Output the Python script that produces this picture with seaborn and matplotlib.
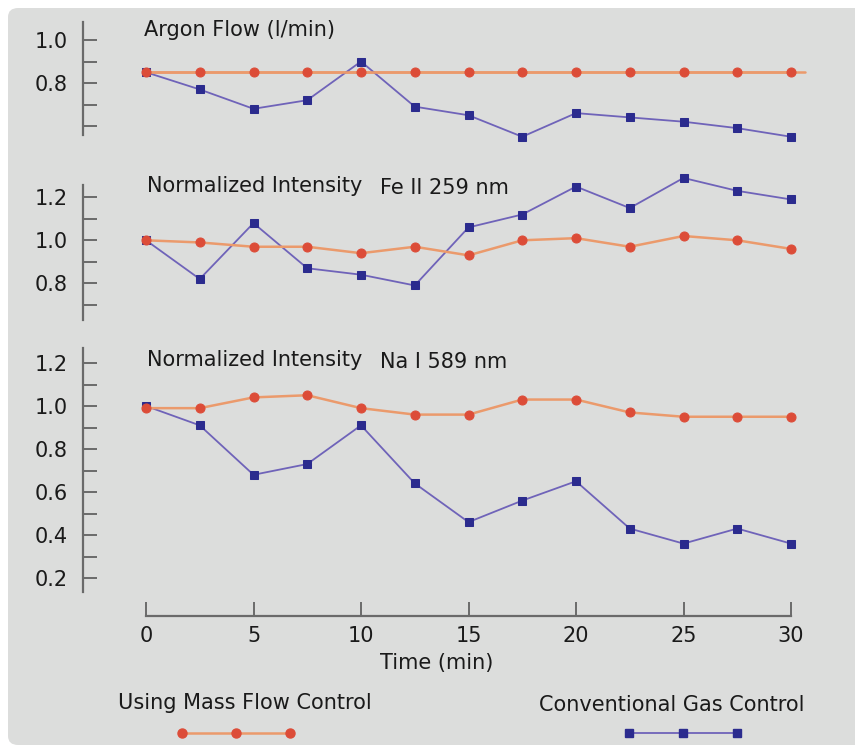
import numpy as np
import pandas as pd
import seaborn as sns
import matplotlib.pyplot as plt
from matplotlib.patches import FancyBboxPatch
from matplotlib.lines import Line2D

sns.set_theme(style='white')
plt.rcParams['font.family'] = ['DejaVu Sans']

# data
time_min = [0, 2.5, 5, 7.5, 10, 12.5, 15, 17.5, 20, 22.5, 25, 27.5, 30]

argon_mfc = [0.85, 0.85, 0.85, 0.85, 0.85, 0.85, 0.85, 0.85, 0.85, 0.85, 0.85, 0.85, 0.85]
argon_conv = [0.85, 0.77, 0.68, 0.72, 0.90, 0.69, 0.65, 0.55, 0.66, 0.64, 0.62, 0.59, 0.55]

fe_mfc = [1.00, 0.99, 0.97, 0.97, 0.94, 0.97, 0.93, 1.00, 1.01, 0.97, 1.02, 1.00, 0.96]
fe_conv = [1.00, 0.82, 1.08, 0.87, 0.84, 0.79, 1.06, 1.12, 1.25, 1.15, 1.29, 1.23, 1.19]

na_mfc = [0.99, 0.99, 1.04, 1.05, 0.99, 0.96, 0.96, 1.03, 1.03, 0.97, 0.95, 0.95, 0.95]
na_conv = [1.00, 0.91, 0.68, 0.73, 0.91, 0.64, 0.46, 0.56, 0.65, 0.43, 0.36, 0.43, 0.36]

x_ticks = [0, 5, 10, 15, 20, 25, 30]
mfc_label = 'Using Mass Flow Control'
conv_label = 'Conventional Gas Control'

# colours
bg = '#dcdddc'
orange_line = '#eb9a6c'
orange_mark = '#dc4c38'
blue_line = '#6f63b9'
blue_mark = '#2b2b8e'
axis_col = '#6a6a6a'
text_col = '#1a1a1a'

W, H = 855, 753
fig = plt.figure(figsize=(W / 100, H / 100), dpi=100)
fig.patch.set_facecolor('white')

# rounded grey panel behind everything
fig.patches.append(FancyBboxPatch((8 / W, 8 / H), (W + 20) / W, (H - 16) / H,
                                  boxstyle='round,pad=0,rounding_size=0.012',
                                  transform=fig.transFigure, facecolor=bg,
                                  edgecolor='none', zorder=-10))

# layout in pixels: x=0 at 146px, x=30 at 791px; 215 px per y-unit
X0, PX_PER_MIN = 146, 21.5
PX_PER_UNIT = 215
AX_LEFT, AX_RIGHT = 83, 812


def make_axes(top, bottom, ref_px):
    ax = fig.add_axes([AX_LEFT / W, 1 - bottom / H, (AX_RIGHT - AX_LEFT) / W, (bottom - top) / H])
    ax.set_facecolor('none')
    ax.set_xlim((AX_LEFT - X0) / PX_PER_MIN, (AX_RIGHT - X0) / PX_PER_MIN)
    ax.set_ylim(1.0 - (bottom - ref_px) / PX_PER_UNIT, 1.0 + (ref_px - top) / PX_PER_UNIT)
    for s in ['top', 'right', 'bottom']:
        ax.spines[s].set_visible(False)
    ax.spines['left'].set_color(axis_col)
    ax.spines['left'].set_linewidth(1.6)
    ax.tick_params(axis='y', direction='in', length=10, width=1.4, color=axis_col,
                   pad=11, labelsize=15, labelcolor=text_col, left=True)
    ax.set_xticks([])
    return ax


def draw(ax, y_mfc, y_conv):
    df = pd.DataFrame({'time': time_min, 'mfc': y_mfc, 'conv': y_conv})
    sns.lineplot(data=df, x='time', y='conv', ax=ax, color=blue_line, lw=1.3,
                 marker='s', markersize=6, markerfacecolor=blue_mark,
                 markeredgecolor=blue_mark, clip_on=False, zorder=3)
    sns.lineplot(data=df, x='time', y='mfc', ax=ax, color=orange_line, lw=1.8,
                 marker='o', markersize=6.5, markerfacecolor=orange_mark,
                 markeredgecolor=orange_mark, clip_on=False, zorder=4)
    ax.set_xlabel('')
    ax.set_ylabel('')


def y_ticks(ax, lo, hi, labelled):
    ticks = np.round(np.arange(lo, hi + 0.001, 0.1), 1)
    ax.set_yticks(ticks)
    ax.set_yticklabels([f'{t:.1f}' if t in labelled else '' for t in ticks])


# panel 1: argon flow
ax1 = make_axes(12, 145, 40)
draw(ax1, argon_mfc, argon_conv)
y_ticks(ax1, 0.6, 1.0, [0.8, 1.0])
ax1.spines['left'].set_bounds(0.558, 1.084)
# the constant argon line runs on a little past the last point
ax1.axhline(argon_mfc[-1], xmin=(X0 - AX_LEFT) / (AX_RIGHT - AX_LEFT),
            xmax=(805 - AX_LEFT) / (AX_RIGHT - AX_LEFT), color=orange_line, lw=1.8, zorder=2)

# panel 2: Fe II
ax2 = make_axes(165, 325, 240.3)
draw(ax2, fe_mfc, fe_conv)
y_ticks(ax2, 0.7, 1.2, [0.8, 1.0, 1.2])
ax2.spines['left'].set_bounds(0.629, 1.257)

# panel 3: Na I, carries the time axis
ax3 = make_axes(340, 616, 406)
draw(ax3, na_mfc, na_conv)
y_ticks(ax3, 0.2, 1.2, [0.2, 0.4, 0.6, 0.8, 1.0, 1.2])
ax3.spines['left'].set_bounds(0.135, 1.27)
ax3.spines['bottom'].set_visible(True)
ax3.spines['bottom'].set_color(axis_col)
ax3.spines['bottom'].set_linewidth(1.6)
ax3.spines['bottom'].set_bounds(0, 30)
ax3.set_xticks(x_ticks)
ax3.set_xticklabels([str(t) for t in x_ticks])
ax3.tick_params(axis='x', direction='in', length=10, width=1.4, color=axis_col,
                pad=7, labelsize=15, labelcolor=text_col, bottom=True)

# panel titles
title_kw = dict(fontsize=15, color=text_col, va='center', ha='left')
fig.text(144 / W, 1 - 30 / H, 'Argon Flow (l/min)', **title_kw)
fig.text(147 / W, 1 - 186 / H, 'Normalized Intensity', **title_kw)
fig.text(380 / W, 1 - 188 / H, 'Fe II 259 nm', **title_kw)
fig.text(147 / W, 1 - 360 / H, 'Normalized Intensity', **title_kw)
fig.text(380 / W, 1 - 362 / H, 'Na I 589 nm', **title_kw)

fig.text(437 / W, 1 - 663 / H, 'Time (min)', fontsize=15, color=text_col, ha='center', va='center')

# legend: label above a three-marker key
fig.text(245 / W, 1 - 703 / H, mfc_label, fontsize=15, color=text_col, ha='center', va='center')
fig.text(672 / W, 1 - 705 / H, conv_label, fontsize=15, color=text_col, ha='center', va='center')
fig.lines.append(Line2D([182 / W, 236 / W, 290 / W], [1 - 733 / H] * 3, transform=fig.transFigure,
                        color=orange_line, lw=1.8, marker='o', markersize=6.5,
                        markerfacecolor=orange_mark, markeredgecolor=orange_mark))
fig.lines.append(Line2D([629 / W, 683 / W, 737 / W], [1 - 733 / H] * 3, transform=fig.transFigure,
                        color=blue_line, lw=1.3, marker='s', markersize=6,
                        markerfacecolor=blue_mark, markeredgecolor=blue_mark))

fig.savefig('out.png', dpi=100)
